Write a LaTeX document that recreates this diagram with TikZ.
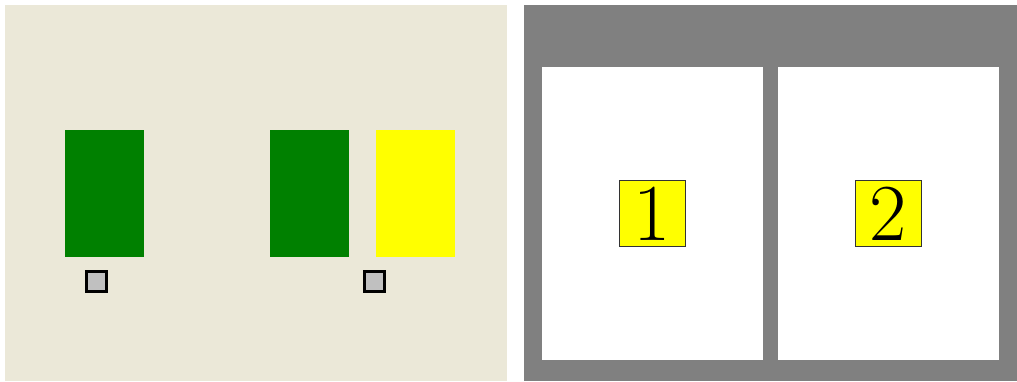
\documentclass[tikz,border=0pt]{standalone}
\usepackage{xcolor}
\definecolor{paper}{RGB}{235,232,216}
\definecolor{frame}{HTML}{808080}
\definecolor{leafgreen}{HTML}{008000}
\definecolor{signal}{RGB}{255,255,0}
\definecolor{marker}{HTML}{C0C0C0}

\begin{document}
\begin{tikzpicture}[
    panel/.style={fill=white, draw=none, inner sep=0pt,
                  minimum width=2.21cm, minimum height=2.93cm},
    block/.style={draw=none, inner sep=0pt,
                  minimum width=0.79cm, minimum height=1.27cm},
    knob/.style={draw=black, fill=marker, line width=1pt, inner sep=0pt,
                 minimum size=0.20cm},
    tag/.style={draw=black!80, fill=signal, line width=0.3pt, inner sep=0pt,
                minimum size=0.66cm, font=\fontsize{23}{27}\selectfont},
]
\useasboundingbox (0,0) rectangle (10.17,3.81);

% Links: Tisch
\fill[paper] (0.05,0) rectangle (5.07,3.76);

\node[block, fill=leafgreen] (g1) at (1.045, 1.875) {};
\node[block, fill=leafgreen] (g2) at (3.09, 1.875) {};
\node[block, fill=signal] (y1) at (4.15, 1.875) {};

\node[knob] (k1) at (0.965, 0.995) {};
\node[knob] (k2) at (3.745, 0.995) {};

% Rechts: Seiten
\fill[frame] (5.24,0) rectangle (10.17,3.76);

\node[panel] (p1) at (6.525, 1.675) {};
\node[panel] (p2) at (8.885, 1.675) {};

\node[tag] (n1) at (p1) {1};
\node[tag] (n2) at (p2) {2};

\end{tikzpicture}
\end{document}
